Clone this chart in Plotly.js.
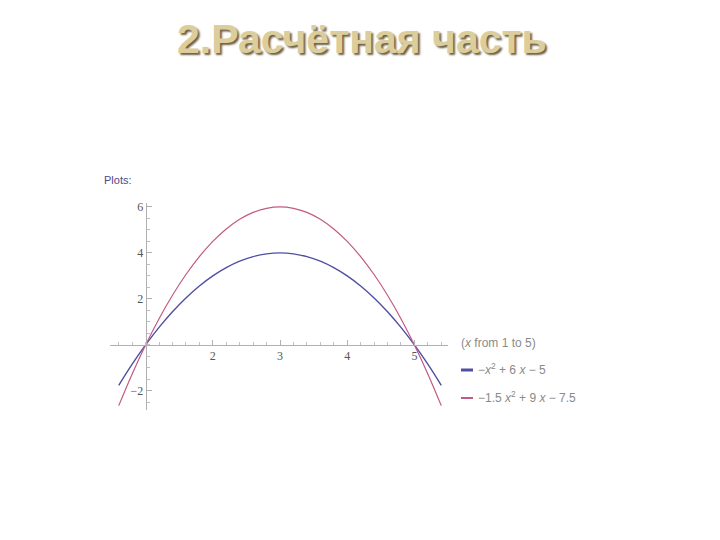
<!DOCTYPE html>
<html>
<head>
<meta charset="utf-8">
<script src="https://cdn.plot.ly/plotly-3.0.1.min.js"></script>
<style>html,body{margin:0;padding:0;background:#fff;}#chart{width:720px;height:540px;}</style>
</head>
<body>
<div id="chart"></div>
<script>
// Data
var xValues = [0.6,0.8,1.0,1.2,1.4,1.6,1.8,2.0,2.2,2.4,2.6,2.8,3.0,3.2,3.4,3.6,3.8,4.0,4.2,4.4,4.6,4.8,5.0,5.2,5.4];
var blueValues = [-1.76,-0.84,0,0.76,1.44,2.04,2.56,3,3.36,3.64,3.84,3.96,4,3.96,3.84,3.64,3.36,3,2.56,2.04,1.44,0.76,0,-0.84,-1.76];
var redValues = [-2.64,-1.26,0,1.14,2.16,3.06,3.84,4.5,5.04,5.46,5.76,5.94,6,5.94,5.76,5.46,5.04,4.5,3.84,3.06,2.16,1.14,0,-1.26,-2.64];
var seriesNames = ["\u2212<i>x</i><sup>2</sup> + 6 <i>x</i> \u2212 5", "\u22121.5 <i>x</i><sup>2</sup> + 9 <i>x</i> \u2212 7.5"];
var xTickVals = [2,3,4,5];
var yTickVals = [-2,2,4,6];
var yTickText = ["\u22122","2","4","6"];
var titleText = "2.Расчётная часть";
var plotsLabel = "Plots:";
var rangeLabel = "(<i>x</i> from 1 to 5)";

var blueColor = "#4f4fa3";
var redColor = "#c25a84";

var xr = [0.47, 5.5], yr = [-2.83, 6.17];
var xCross = (1 - xr[0]) / (xr[1] - xr[0]);
var yCross = (0 - yr[0]) / (yr[1] - yr[0]);

var traces = [
  {x: xValues, y: blueValues, name: seriesNames[0], mode: "lines", line: {color: blueColor, width: 1.4, shape: "spline"}, hoverinfo: "skip"},
  {x: xValues, y: redValues, name: seriesNames[1], mode: "lines", line: {color: redColor, width: 1.2, shape: "spline"}, hoverinfo: "skip"}
];

var tickFont = {family: "Liberation Serif, DejaVu Serif, serif", size: 12, color: "#555"};
var legFont = {family: "Liberation Sans, Arial, sans-serif", size: 12, color: "#8a8a8a"};

var plotW = 720 - 110 - 272, plotH = 540 - 203 - 130;
function px2paperX(p) { return (p - 110) / plotW; }
function px2paperY(p) { return (540 - 130 - p) / plotH; }

var layout = {
  width: 720, height: 540,
  paper_bgcolor: "#fff", plot_bgcolor: "rgba(0,0,0,0)",
  margin: {l: 110, r: 272, t: 203, b: 130},
  showlegend: false,
  xaxis: {
    range: xr, anchor: "free", position: yCross,
    showgrid: false, zeroline: false,
    showline: true, linecolor: "#b0b0b0", linewidth: 1,
    ticks: "inside", ticklen: 5, tickcolor: "#b0b0b0",
    tickvals: xTickVals, tickfont: tickFont,
    minor: {dtick: 0.2, tick0: 0, ticks: "inside", ticklen: 3, tickcolor: "#c0c0c0"}
  },
  yaxis: {
    range: yr, anchor: "free", position: xCross,
    showgrid: false, zeroline: false,
    showline: true, linecolor: "#b0b0b0", linewidth: 1,
    ticks: "inside", ticklen: 5, tickcolor: "#b0b0b0",
    tickvals: yTickVals, ticktext: yTickText, tickfont: tickFont,
    minor: {dtick: 0.5, tick0: 0, ticks: "inside", ticklen: 3, tickcolor: "#c0c0c0"}
  },
  shapes: [
    {type: "line", xref: "paper", yref: "paper", x0: px2paperX(461), x1: px2paperX(473), y0: px2paperY(370), y1: px2paperY(370), line: {color: blueColor, width: 3}},
    {type: "line", xref: "paper", yref: "paper", x0: px2paperX(461), x1: px2paperX(473), y0: px2paperY(398), y1: px2paperY(398), line: {color: redColor, width: 2}}
  ],
  annotations: [
    {text: titleText, xref: "paper", yref: "paper", x: px2paperX(362), y: px2paperY(39), xanchor: "center", yanchor: "middle", showarrow: false,
     font: {family: "Liberation Sans, Arial, sans-serif", size: 41, color: "#dccd9c", weight: "bold", shadow: "2px 2px 2px #6b5f45"}},
    {text: plotsLabel, xref: "paper", yref: "paper", x: px2paperX(102), y: px2paperY(180), xanchor: "left", yanchor: "middle", showarrow: false,
     font: {family: "Liberation Sans, Arial, sans-serif", size: 11, color: "#4a4a8a"}},
    {text: rangeLabel, xref: "paper", yref: "paper", x: px2paperX(459), y: px2paperY(343), xanchor: "left", yanchor: "middle", showarrow: false, font: legFont},
    {text: seriesNames[0], xref: "paper", yref: "paper", x: px2paperX(476), y: px2paperY(369), xanchor: "left", yanchor: "middle", showarrow: false, font: legFont},
    {text: seriesNames[1], xref: "paper", yref: "paper", x: px2paperX(476), y: px2paperY(397), xanchor: "left", yanchor: "middle", showarrow: false, font: legFont}
  ]
};

Plotly.newPlot("chart", traces, layout, {staticPlot: true, displayModeBar: false});
</script>
</body>
</html>
